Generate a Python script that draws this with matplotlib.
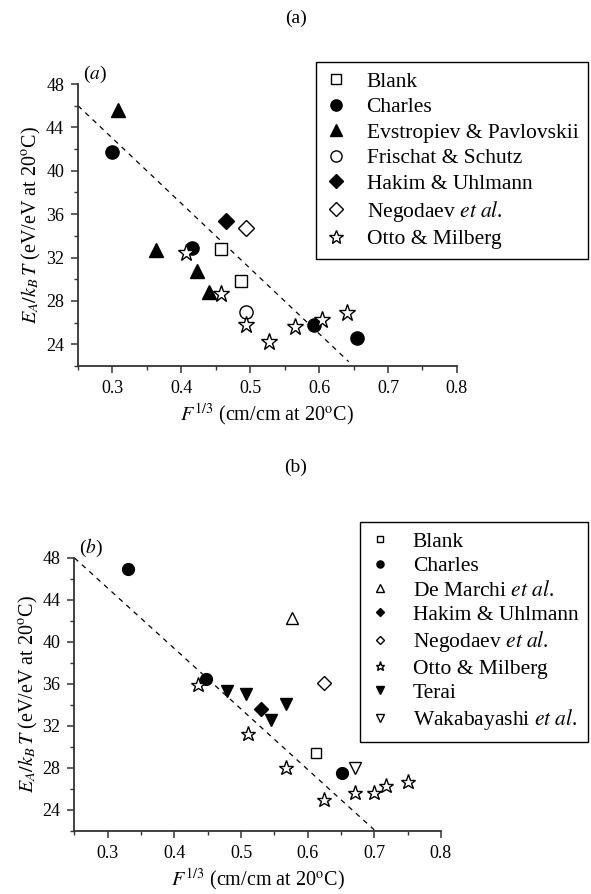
import matplotlib
matplotlib.use('Agg')
import matplotlib.pyplot as plt
from matplotlib.ticker import MultipleLocator

plt.rcParams['font.family'] = ['Liberation Serif', 'DejaVu Serif']
plt.rcParams['mathtext.fontset'] = 'stix'

# panel (a) data
a_blank_x = [0.457, 0.486]
a_blank_y = [32.8, 29.8]
a_charles_x = [0.299, 0.416, 0.592, 0.655]
a_charles_y = [41.75, 32.85, 25.8, 24.55]
a_evs_x = [0.308, 0.363, 0.423, 0.440]
a_evs_y = [45.6, 32.7, 30.8, 28.8]
a_fris_x = [0.4935]
a_fris_y = [26.95]
a_hakim_x = [0.4645]
a_hakim_y = [35.4]
a_nego_x = [0.4935]
a_nego_y = [34.7]
a_otto_x = [0.4065, 0.457, 0.4935, 0.527, 0.5655, 0.6046, 0.640]
a_otto_y = [32.45, 28.6, 25.75, 24.25, 25.6, 26.25, 26.9]
a_fit_x = [0.25, 0.643]
a_fit_y = [46.0, 22.4]

# panel (b) data
b_blank_x = [0.613]
b_blank_y = [29.4]
b_charles_x = [0.331, 0.448, 0.652]
b_charles_y = [46.95, 36.5, 27.55]
b_demarchi_x = [0.576]
b_demarchi_y = [42.3]
b_hakim_x = [0.530]
b_hakim_y = [33.6]
b_nego_x = [0.6245]
b_nego_y = [36.1]
b_otto_x = [0.435, 0.510, 0.567, 0.6245, 0.671, 0.6996, 0.717, 0.750]
b_otto_y = [35.9, 31.2, 27.95, 24.95, 25.65, 25.65, 26.25, 26.65]
b_terai_x = [0.479, 0.507, 0.545, 0.567]
b_terai_y = [35.3, 35.0, 32.6, 34.1]
b_waka_x = [0.671]
b_waka_y = [28.0]
b_fit_x = [0.25, 0.70]
b_fit_y = [48.0, 22.1]

fig = plt.figure(figsize=(5.91, 8.94), dpi=100)

ax1 = fig.add_axes([0.132, 0.5906, 0.641, 0.3154])
ax2 = fig.add_axes([0.126, 0.0705, 0.620, 0.3054])

def style(ax, tag):
    ax.set_xlim(0.25, 0.8)
    ax.set_ylim(22, 48)
    ax.xaxis.set_major_locator(MultipleLocator(0.1))
    ax.xaxis.set_minor_locator(MultipleLocator(0.05))
    ax.yaxis.set_major_locator(MultipleLocator(4))
    ax.yaxis.set_minor_locator(MultipleLocator(2))
    ax.set_xticks([0.3, 0.4, 0.5, 0.6, 0.7, 0.8])
    ax.set_yticks([24, 28, 32, 36, 40, 44, 48])
    for s in ['top', 'right']:
        ax.spines[s].set_visible(False)
    for s in ['left', 'bottom']:
        ax.spines[s].set_linewidth(1.3)
        ax.spines[s].set_color('#333333')
    ax.tick_params(which='major', direction='out', length=5, width=1.1,
                   labelsize=13, color='#333333', pad=5)
    ax.tick_params(which='minor', direction='out', length=3, width=1.0,
                   color='#333333')
    ax.set_xlabel(r'$F^{1/3}$ (cm/cm at 20$^{\rm o}$C)', fontsize=14.5, labelpad=3)
    ax.set_ylabel(r'$E_A/k_B\,T$ (eV/eV at 20$^{\rm o}$C)', fontsize=14.5, labelpad=2)
    ax.text(0.013, 0.995, tag, transform=ax.transAxes, fontsize=14,
            ha='left', va='bottom')

open_kw = dict(mfc='white', mec='black', mew=1.0, ls='none')
fill_kw = dict(mfc='black', mec='black', ls='none')

# panel (a)
ms = 9.5
ax1.plot(a_fit_x, a_fit_y, ls=(0, (4, 4)), color='black', lw=0.9)
ax1.plot(a_blank_x, a_blank_y, marker='s', ms=ms * 0.85, label='Blank', **open_kw)
ax1.plot(a_charles_x, a_charles_y, marker='o', ms=ms, label='Charles', **fill_kw)
ax1.plot(a_evs_x, a_evs_y, marker='^', ms=ms, label='Evstropiev & Pavlovskii', **fill_kw)
ax1.plot(a_fris_x, a_fris_y, marker='o', ms=ms, label='Frischat & Schutz', **open_kw)
ax1.plot(a_hakim_x, a_hakim_y, marker='D', ms=ms * 0.85, label='Hakim & Uhlmann', **fill_kw)
ax1.plot(a_nego_x, a_nego_y, marker='D', ms=ms * 0.85,
         label=r'Negodaev $\it{et\ al}$.', **open_kw)
ax1.plot(a_otto_x, a_otto_y, marker='*', ms=ms * 1.3, label='Otto & Milberg', **open_kw)
style(ax1, r'($\it{a}$)')

leg1 = ax1.legend(loc='upper right', bbox_to_anchor=(588 / 591, 1 - 62 / 894),
                  bbox_transform=fig.transFigure, fontsize=15.5, frameon=True,
                  fancybox=False, edgecolor='black', framealpha=1,
                  handlelength=1.0, handletextpad=0.9, labelspacing=0.25,
                  borderpad=0.45, borderaxespad=0, markerscale=0.85)
leg1.get_frame().set_linewidth(1.0)

# panel (b)
ms = 8.5
ax2.plot(b_fit_x, b_fit_y, ls=(0, (4, 4)), color='black', lw=0.9)
ax2.plot(b_blank_x, b_blank_y, marker='s', ms=ms * 0.85, label='Blank', **open_kw)
ax2.plot(b_charles_x, b_charles_y, marker='o', ms=ms, label='Charles', **fill_kw)
ax2.plot(b_demarchi_x, b_demarchi_y, marker='^', ms=ms,
         label=r'De Marchi $\it{et\ al}$.', **open_kw)
ax2.plot(b_hakim_x, b_hakim_y, marker='D', ms=ms * 0.85, label='Hakim & Uhlmann', **fill_kw)
ax2.plot(b_nego_x, b_nego_y, marker='D', ms=ms * 0.85,
         label=r'Negodaev $\it{et\ al}$.', **open_kw)
ax2.plot(b_otto_x, b_otto_y, marker='*', ms=ms * 1.3, label='Otto & Milberg', **open_kw)
ax2.plot(b_terai_x, b_terai_y, marker='v', ms=ms, label='Terai', **fill_kw)
ax2.plot(b_waka_x, b_waka_y, marker='v', ms=ms,
         label=r'Wakabayashi $\it{et\ al}$.', **open_kw)
style(ax2, r'($\it{b}$)')

leg2 = ax2.legend(loc='upper right', bbox_to_anchor=(588 / 591, 1 - 522 / 894),
                  bbox_transform=fig.transFigure, fontsize=15.5, frameon=True,
                  fancybox=False, edgecolor='black', framealpha=1,
                  handlelength=1.0, handletextpad=1.0, labelspacing=0.2,
                  borderpad=0.45, borderaxespad=0, markerscale=0.6)
leg2.get_frame().set_linewidth(1.0)

fig.text(0.5, 1 - 18 / 894, '(a)', fontsize=14, ha='center', va='center')
fig.text(0.5, 1 - 467 / 894, '(b)', fontsize=14, ha='center', va='center')

fig.savefig('out.png', dpi=100)
